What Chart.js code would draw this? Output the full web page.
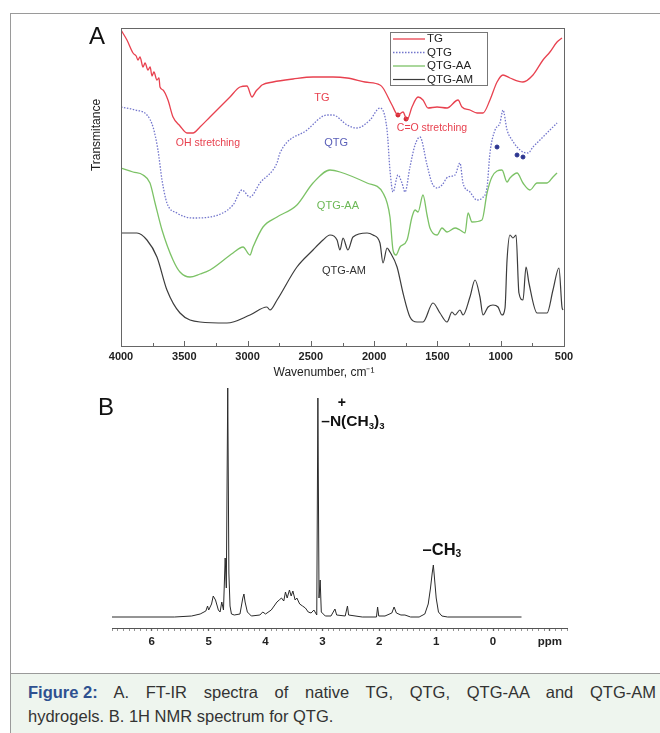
<!DOCTYPE html>
<html>
<head>
<meta charset="utf-8">
<script src="https://cdn.jsdelivr.net/npm/chart.js@4.4.1/dist/chart.umd.min.js"></script>
<style>
body { margin: 0; background: #fff; width: 660px; height: 733px; overflow: hidden; position: relative; font-family: "Liberation Sans", Arial, sans-serif; }
#frame { position: absolute; left: 10px; top: 13px; width: 660px; height: 730px; border-left: 1px solid #9a9a9a; border-top: 1px solid #9a9a9a; }
#cA { position: absolute; left: 80px; top: 20px; }
#cB { position: absolute; left: 90px; top: 378px; }
#caption { position: absolute; left: 11px; top: 673px; width: 649px; height: 60px; background: #eef5ee; border-top: 1px solid #9a9a9a; }
#caption .l { position: absolute; left: 17px; width: 628px; font-size: 16.5px; line-height: 24px; color: #333; white-space: nowrap; }
#caption .l1 { top: 6px; text-align: justify; text-align-last: justify; white-space: normal; }
#caption .l2 { top: 30px; }
#caption b { color: #2e5190; display: inline-block; }
</style>
</head>
<body>
<div id="frame"></div>
<canvas id="cA" width="500" height="370"></canvas>
<canvas id="cB" width="490" height="290"></canvas>
<div id="caption">
  <div class="l l1"><b>Figure 2:</b> A. FT-IR spectra of native TG, QTG, QTG-AA and QTG-AM</div>
  <div class="l l2">hydrogels. B. 1H NMR spectrum for QTG.</div>
</div>

<script>
// ---- FT-IR data (wavenumber cm-1, transmittance a.u. with vertical offsets) ----
var tgWn = [4000, 3953, 3905, 3880, 3866, 3850, 3826, 3810, 3787, 3770,
            3755, 3740, 3716, 3700, 3692, 3668, 3629, 3589, 3534, 3479,
            3431, 3376, 3297, 3218, 3139, 3060, 3005, 2965, 2933, 2902,
            2886, 2799, 2641, 2483, 2325, 2214, 2072, 1954, 1930, 1859,
            1812, 1772, 1740, 1701, 1653, 1614, 1574, 1503, 1424, 1337,
            1306, 1243, 1187, 1140, 1085, 1029, 982, 927, 824, 745,
            666, 611, 555, 516];
var tgT = [316, 306, 293, 290, 286, 289, 279, 283, 276, 279,
           270, 274, 266, 268, 259, 256, 246, 229, 220, 213,
           213, 219, 229, 239, 249, 259, 260, 249, 255, 259,
           261, 264, 267, 269, 269, 268, 264, 261, 258, 241,
           231, 234, 226, 239, 249, 246, 238, 239, 238, 246,
           239, 236, 233, 233, 246, 264, 271, 268, 264, 271,
           286, 294, 304, 308];

var qtgWn = [4000, 3889, 3795, 3747, 3708, 3676, 3637, 3558, 3431, 3297,
             3115, 3044, 2981, 2902, 2768, 2744, 2530, 2372, 2325, 2214,
             2135, 2033, 1954, 1898, 1875, 1851, 1812, 1780, 1756, 1717,
             1677, 1638, 1582, 1543, 1503, 1464, 1417, 1361, 1322, 1298,
             1243, 1187, 1148, 1108, 1085, 1045, 1006, 982, 950, 911,
             871, 824, 784, 745, 690, 611, 555];
var qtgT = [239, 236, 231, 219, 196, 166, 143, 133, 128, 129,
            141, 156, 149, 163, 183, 193, 216, 231, 231, 221,
            218, 226, 238, 216, 176, 154, 171, 163, 154, 179,
            201, 209, 181, 163, 158, 161, 169, 171, 183, 163,
            154, 146, 148, 159, 193, 216, 223, 236, 216, 206,
            199, 194, 193, 199, 206, 216, 223];

var aaWn = [4000, 3905, 3826, 3771, 3731, 3676, 3589, 3534, 3455, 3376,
            3297, 3115, 3036, 2981, 2957, 2878, 2767, 2610, 2483, 2349,
            2270, 2056, 1930, 1875, 1851, 1827, 1796, 1740, 1701, 1677,
            1653, 1614, 1582, 1559, 1503, 1464, 1424, 1361, 1322, 1282,
            1258, 1227, 1148, 1108, 1069, 990, 950, 927, 871, 824,
            769, 713, 634, 587, 555];
var aaT = [178, 174, 171, 163, 143, 116, 86, 74, 69, 72,
           76, 93, 99, 91, 99, 119, 129, 141, 163, 176,
           174, 163, 153, 129, 96, 91, 99, 106, 129, 136,
           134, 151, 131, 118, 111, 118, 114, 118, 116, 113,
           133, 124, 126, 153, 169, 176, 164, 168, 173, 163,
           156, 163, 163, 169, 173];

var amWn = [4000, 3874, 3795, 3716, 3637, 3534, 3376, 3163, 2981, 2847,
            2823, 2767, 2610, 2483, 2404, 2349, 2293, 2270, 2246, 2207,
            2167, 2056, 2009, 1954, 1930, 1898, 1875, 1819, 1772, 1717,
            1661, 1614, 1535, 1480, 1424, 1385, 1361, 1322, 1298, 1243,
            1203, 1164, 1140, 1100, 1061, 1021, 990, 966, 950, 927,
            903, 879, 856, 824, 800, 777, 713, 634, 587, 540,
            516, 508];
var amT = [113, 113, 106, 89, 56, 33, 24, 23, 31, 39,
           36, 46, 79, 96, 106, 111, 106, 96, 108, 96,
           109, 113, 111, 103, 83, 98, 94, 79, 53, 29,
           24, 24, 43, 33, 24, 34, 31, 36, 31, 49,
           66, 49, 31, 39, 41, 39, 31, 38, 86, 111,
           108, 111, 53, 46, 79, 63, 33, 33, 56, 78,
           39, 36];

// small marks drawn on the spectra
var coMarkWn = [1812, 1748];
var coMarkT = [231, 227];
var blueMarkWn = [1029, 871, 824];
var blueMarkT = [199, 191, 189];

var irTicks = [4000, 3500, 3000, 2500, 2000, 1500, 1000, 500];

// ---- 1H NMR data (ppm, intensity) ----
var nmrPpm = [6.7, 5.6, 5.3, 5.15, 5.05, 5.02, 5.0, 4.95, 4.92, 4.88,
              4.83, 4.80, 4.77, 4.74, 4.71, 4.69, 4.665, 4.645, 4.625, 4.60,
              4.55, 4.45, 4.40, 4.38, 4.36, 4.32, 4.25, 4.10, 4.05, 4.00,
              3.90, 3.85, 3.80, 3.76, 3.72, 3.68, 3.65, 3.62, 3.58, 3.55,
              3.52, 3.48, 3.45, 3.40, 3.35, 3.30, 3.25, 3.20, 3.15, 3.10,
              3.08, 3.06, 3.04, 3.02, 2.95, 2.85, 2.78, 2.75, 2.60, 2.56,
              2.54, 2.30, 2.05, 2.03, 2.01, 1.90, 1.78, 1.74, 1.70, 1.62,
              1.55, 1.45, 1.30, 1.20, 1.14, 1.10, 1.07, 1.05, 1.03, 1.00,
              0.96, 0.90, 0.80, -0.50];
var nmrI = [11, 11, 12, 14, 17, 22, 18, 24, 32, 28,
            18, 16, 26, 18, 70, 40, 240, 55, 22, 14,
            13, 14, 30, 34, 26, 16, 12, 13, 16, 14,
            18, 22, 26, 28, 30, 27, 36, 30, 38, 32,
            37, 28, 30, 24, 22, 20, 16, 15, 18, 13,
            230, 30, 48, 16, 12, 12, 19, 13, 12, 22,
            13, 11, 11, 21, 12, 12, 15, 21, 15, 13,
            13, 11, 11, 14, 24, 40, 55, 63, 50, 30,
            16, 12, 11, 11];
var nmrTicks = [6, 5, 4, 3, 2, 1, 0];

Chart.defaults.font.family = '"Liberation Sans", Arial, sans-serif';
Chart.defaults.color = '#222';

function toPoints(xs, ys) {
    return xs.map(function (x, i) { return { x: x, y: ys[i] }; });
}

function isWhole(v) {
    return Math.abs(v - Math.round(v)) < 1e-6;
}

// draw a string made of normal and subscript pieces
function drawRich(ctx, parts, x, y, size) {
    parts.forEach(function (p) {
        var s = p.sub ? size * 0.62 : size;
        ctx.font = 'bold ' + s + 'px "Liberation Sans", Arial, sans-serif';
        ctx.fillText(p.t, x, p.sub ? y + size * 0.28 : y);
        x += ctx.measureText(p.t).width;
    });
}

// frame, inward ticks, legend and text labels
var overlay = {
    id: 'overlay',
    afterDatasetsDraw: function (chart, args, opts) {
        var ctx = chart.ctx;
        var a = chart.chartArea;
        var xs = chart.scales.x;
        var ys = chart.scales.y;
        ctx.save();

        if (opts.frame) {
            ctx.strokeStyle = '#666';
            ctx.lineWidth = 1;
            ctx.strokeRect(a.left + 0.5, a.top + 0.5, a.right - a.left, a.bottom - a.top);
            ctx.beginPath();
            xs.ticks.forEach(function (t) {
                var px = Math.round(xs.getPixelForValue(t.value)) + 0.5;
                var len = irTicks.indexOf(t.value) >= 0 ? 5 : 3;
                ctx.moveTo(px, a.bottom);
                ctx.lineTo(px, a.bottom - len);
            });
            ctx.stroke();
        }

        if (opts.legend) {
            var L = opts.legend;
            var lx = a.left + L.left, ly = a.top + L.top;
            ctx.strokeStyle = '#777';
            ctx.lineWidth = 1;
            ctx.strokeRect(lx + 0.5, ly + 0.5, L.width, L.height);
            ctx.font = '11.5px "Liberation Sans", Arial, sans-serif';
            ctx.textBaseline = 'middle';
            ctx.textAlign = 'left';
            chart.data.datasets.forEach(function (ds, i) {
                if (!ds.inLegend) return;
                var ry = ly + 7 + i * 13.5;
                ctx.strokeStyle = ds.borderColor;
                ctx.lineWidth = ds.borderWidth;
                ctx.setLineDash(ds.borderDash || []);
                ctx.beginPath();
                ctx.moveTo(lx + 3, ry);
                ctx.lineTo(lx + 35, ry);
                ctx.stroke();
                ctx.setLineDash([]);
                ctx.fillStyle = '#222';
                ctx.fillText(ds.label, lx + 37, ry);
            });
        }

        (opts.texts || []).forEach(function (t) {
            ctx.fillStyle = t.color || '#222';
            ctx.font = t.font;
            ctx.textAlign = t.align || 'center';
            ctx.textBaseline = 'middle';
            var px, py;
            if (t.data) {
                px = xs.getPixelForValue(t.x);
                py = ys.getPixelForValue(t.y);
            } else {
                px = t.x; py = t.y;
            }
            if (t.rotate) {
                ctx.save();
                ctx.translate(px, py);
                ctx.rotate(t.rotate);
                ctx.fillText(t.text, 0, 0);
                ctx.restore();
            } else if (t.parts) {
                ctx.textAlign = 'left';
                drawRich(ctx, t.parts, px, py, t.size);
            } else {
                ctx.fillText(t.text, px, py);
            }
        });

        ctx.restore();
    }
};

var red = '#e8414f';
var blue = '#7275cc';
var green = '#7cc266';
var dark = '#3c3c3c';

function irSeries(label, xs, ys, color, width, dash) {
    return {
        label: label,
        data: toPoints(xs, ys),
        borderColor: color,
        borderWidth: width,
        borderDash: dash,
        pointRadius: 0,
        cubicInterpolationMode: 'monotone',
        fill: false,
        inLegend: true
    };
}

function markSeries(xs, ys, color) {
    return {
        label: '',
        data: toPoints(xs, ys),
        showLine: false,
        pointRadius: 2,
        pointBackgroundColor: color,
        pointBorderColor: color,
        borderColor: color,
        inLegend: false
    };
}

// ---- Panel A: FT-IR ----
new Chart(document.getElementById('cA'), {
    type: 'line',
    data: {
        datasets: [
            irSeries('TG', tgWn, tgT, red, 1.3),
            irSeries('QTG', qtgWn, qtgT, blue, 1.3, [1.5, 1.5]),
            irSeries('QTG-AA', aaWn, aaT, green, 1.3),
            irSeries('QTG-AM', amWn, amT, dark, 1.2),
            markSeries(coMarkWn, coMarkT, '#d0202a'),
            markSeries(blueMarkWn, blueMarkT, '#2c3590')
        ]
    },
    options: {
        responsive: false,
        animation: false,
        events: [],
        layout: { padding: { left: 41, right: 16, top: 8, bottom: 0 } },
        plugins: {
            legend: { display: false },
            tooltip: { enabled: false },
            overlay: {
                frame: true,
                legend: { left: 269, top: 4, width: 97, height: 53 },
                texts: [
                    { text: 'A', x: 17, y: 17, font: '24px "Liberation Sans", Arial, sans-serif', color: '#111' },
                    { text: 'Transmitance', x: 17, y: 115, rotate: -Math.PI / 2, font: '12px "Liberation Sans", Arial, sans-serif', color: '#222' },
                    { text: 'Wavenumber, cm\u207B\u00B9', x: 244, y: 353, font: '12px "Liberation Sans", Arial, sans-serif', color: '#222' },
                    { text: 'TG', data: true, x: 2412, y: 248, color: red, font: '11px "Liberation Sans", Arial, sans-serif' },
                    { text: 'OH stretching', data: true, x: 3313, y: 203, color: red, font: '10.5px "Liberation Sans", Arial, sans-serif' },
                    { text: 'QTG', data: true, x: 2301, y: 203, color: '#5a5fb8', font: '11px "Liberation Sans", Arial, sans-serif' },
                    { text: 'C=O stretching', data: true, x: 1543, y: 218, color: red, font: '10.5px "Liberation Sans", Arial, sans-serif' },
                    { text: 'QTG-AA', data: true, x: 2286, y: 140, color: '#6cb856', font: '11px "Liberation Sans", Arial, sans-serif' },
                    { text: 'QTG-AM', data: true, x: 2238, y: 75, color: '#333', font: '11px "Liberation Sans", Arial, sans-serif' }
                ]
            }
        },
        scales: {
            x: {
                type: 'linear',
                reverse: true,
                min: 500,
                max: 4000,
                afterFit: function (scale) { scale.height = 44; },
                ticks: {
                    stepSize: 250,
                    autoSkip: false,
                    maxRotation: 0,
                    padding: 4,
                    font: { size: 11, weight: 'bold' },
                    color: '#222',
                    callback: function (v) { return irTicks.indexOf(v) >= 0 ? String(v) : ''; }
                },
                grid: { display: true, drawOnChartArea: false, drawTicks: false },
                border: { display: true, color: '#666' }
            },
            y: {
                display: false,
                min: 0,
                max: 318
            }
        }
    },
    plugins: [overlay]
});

// ---- Panel B: 1H NMR ----
new Chart(document.getElementById('cB'), {
    type: 'line',
    data: {
        datasets: [{
            label: 'QTG',
            data: toPoints(nmrPpm, nmrI),
            borderColor: '#2a2a2a',
            borderWidth: 1,
            pointRadius: 0,
            tension: 0,
            fill: false
        }]
    },
    options: {
        responsive: false,
        animation: false,
        events: [],
        layout: { padding: { left: 22, right: 13, top: 5, bottom: 0 } },
        plugins: {
            legend: { display: false },
            tooltip: { enabled: false },
            overlay: {
                texts: [
                    { text: 'B', x: 16, y: 30, font: '24px "Liberation Sans", Arial, sans-serif', color: '#111' },
                    { text: '+', data: true, x: 2.66, y: 225, font: 'bold 14px "Liberation Sans", Arial, sans-serif', color: '#111' },
                    { data: true, x: 3.02, y: 206, size: 15.5, color: '#111',
                      parts: [{ t: '\u2013N(CH' }, { t: '3', sub: true }, { t: ')' }, { t: '3', sub: true }] },
                    { data: true, x: 1.24, y: 78, size: 16.5, color: '#111',
                      parts: [{ t: '\u2013CH' }, { t: '3', sub: true }] }
                ]
            }
        },
        scales: {
            x: {
                type: 'linear',
                reverse: true,
                min: -1.3,
                max: 6.7,
                afterFit: function (scale) { scale.height = 40; },
                ticks: {
                    stepSize: 0.1,
                    autoSkip: false,
                    maxRotation: 0,
                    padding: 4,
                    font: { size: 11.5, weight: 'bold' },
                    color: '#222',
                    callback: function (v) {
                        if (isWhole(v) && Math.round(v) === -1) return 'ppm';
                        if (isWhole(v) && nmrTicks.indexOf(Math.round(v)) >= 0) return String(Math.round(v));
                        return '';
                    }
                },
                grid: {
                    display: true,
                    drawOnChartArea: false,
                    drawTicks: true,
                    tickLength: 3,
                    tickColor: '#666',
                    tickWidth: function (c) { return c.tick && isWhole(c.tick.value) ? 1.3 : 0.7; }
                },
                border: { display: true, color: '#555', dash: [1, 1] }
            },
            y: {
                display: false,
                min: 0,
                max: 245
            }
        }
    },
    plugins: [overlay]
});
</script>
</body>
</html>
